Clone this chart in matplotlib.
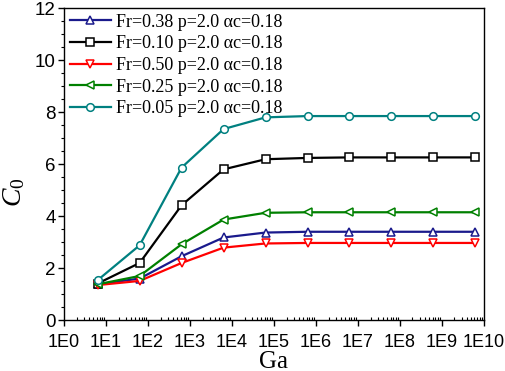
import matplotlib
matplotlib.use("Agg")
import matplotlib.pyplot as plt
import numpy as np
from matplotlib.ticker import LogLocator, MultipleLocator, NullFormatter

plt.rcParams["mathtext.fontset"] = "custom"
plt.rcParams["mathtext.rm"] = "Liberation Serif"
plt.rcParams["mathtext.it"] = "Liberation Serif:italic"

ga = [6.3e0, 6.3e1, 6.3e2, 6.3e3, 6.3e4, 6.3e5, 6.3e6, 6.3e7, 6.3e8, 6.3e9]
c_fr038 = [1.38, 1.60, 2.46, 3.18, 3.37, 3.40, 3.40, 3.40, 3.40, 3.40]
c_fr010 = [1.41, 2.20, 4.42, 5.80, 6.19, 6.24, 6.26, 6.26, 6.26, 6.26]
c_fr050 = [1.35, 1.51, 2.20, 2.79, 2.95, 2.97, 2.97, 2.97, 2.97, 2.97]
c_fr025 = [1.38, 1.70, 2.92, 3.87, 4.13, 4.15, 4.15, 4.15, 4.15, 4.15]
c_fr005 = [1.54, 2.88, 5.87, 7.35, 7.80, 7.85, 7.85, 7.85, 7.85, 7.85]
labels = ["Fr=0.38 p=2.0 \u03b1c=0.18", "Fr=0.10 p=2.0 \u03b1c=0.18",
          "Fr=0.50 p=2.0 \u03b1c=0.18", "Fr=0.25 p=2.0 \u03b1c=0.18",
          "Fr=0.05 p=2.0 \u03b1c=0.18"]
xtick_labels = ["1E0", "1E1", "1E2", "1E3", "1E4", "1E5", "1E6", "1E7", "1E8", "1E9", "1E10"]

series = [c_fr038, c_fr010, c_fr050, c_fr025, c_fr005]
colors = ["#1a1a8c", "#000000", "#ff0000", "#008000", "#008080"]
markers = ["^", "s", "v", "<", "o"]

fig = plt.figure(figsize=(5.05, 3.71), dpi=100)
ax = fig.add_axes([0.127, 0.137, 0.831, 0.841])

for y, c, m, lab in zip(series, colors, markers, labels):
    ax.plot(ga, y, color=c, marker=m, markersize=5.5, markerfacecolor="white",
            markeredgecolor=c, markeredgewidth=1.1, linewidth=1.6, label=lab)

ax.set_xscale("log")
ax.set_xlim(1, 1e10)
ax.set_ylim(0, 12)
ax.set_xticks([10.0**k for k in range(11)])
ax.set_xticklabels(xtick_labels, fontfamily="Liberation Sans", fontsize=13)
ax.xaxis.set_minor_locator(LogLocator(base=10, subs=np.arange(2, 10), numticks=100))
ax.xaxis.set_minor_formatter(NullFormatter())
ax.yaxis.set_major_locator(MultipleLocator(2))
ax.yaxis.set_minor_locator(MultipleLocator(0.5))
for lab in ax.get_yticklabels():
    lab.set_fontfamily("Liberation Sans")
    lab.set_fontsize(13.5)

ax.tick_params(axis="both", which="major", direction="out", length=4, width=1)
ax.tick_params(axis="x", which="minor", direction="in", length=2.5, width=0.8)
ax.tick_params(axis="y", which="minor", direction="out", length=2.5, width=0.8)
ax.tick_params(axis="x", which="major", pad=6)
ax.tick_params(axis="y", which="major", pad=2)
for s in ax.spines.values():
    s.set_linewidth(1.0)

ax.set_xlabel("Ga", fontfamily="Liberation Serif", fontsize=18)
ax.xaxis.label.set_va("baseline")
ax.xaxis.set_label_coords(0.5, -0.153)
ax.set_ylabel(r"$C_{\mathrm{0}}$", fontsize=20)
ax.yaxis.set_label_coords(-0.088, 0.41)

leg = ax.legend(loc="upper left", frameon=False, prop={"family": "Liberation Serif", "size": 13},
                handlelength=2.3, handletextpad=0.3, labelspacing=0.26,
                borderaxespad=0.1, borderpad=0.2)

fig.savefig("out.png", dpi=100)
